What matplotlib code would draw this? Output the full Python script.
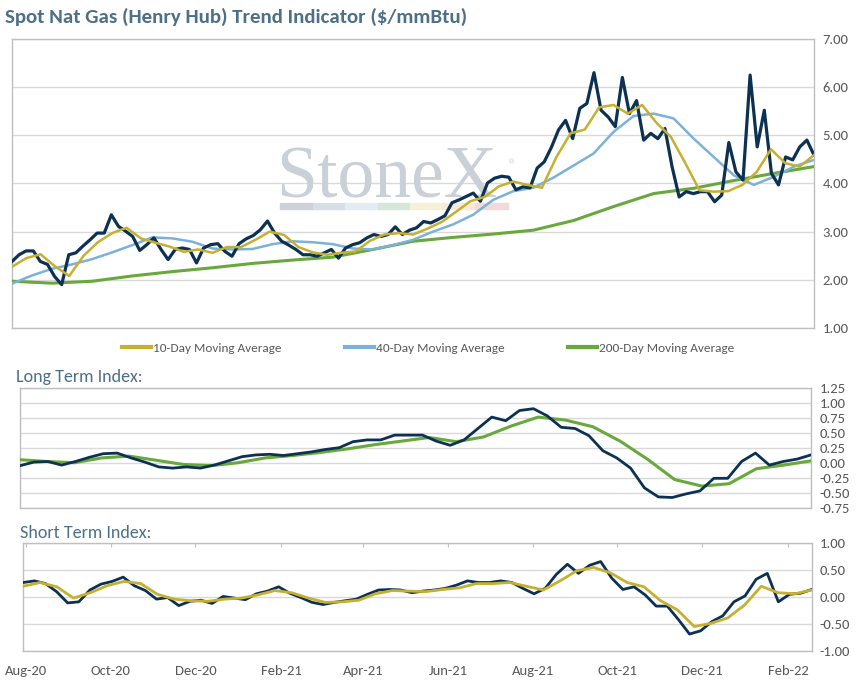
import pandas as pd
import numpy as np
import matplotlib
matplotlib.use('Agg')
import matplotlib.pyplot as plt
import matplotlib.dates as mdates
from matplotlib.lines import Line2D
from matplotlib.patches import Rectangle

plt.rcParams['font.family'] = ['Carlito', 'Lato', 'DejaVu Sans']

START = '2020-07-30'
END = '2022-02-18'

# spot Henry Hub price, one reading every ~5 days
spot = [2.38, 2.52, 2.60, 2.60, 2.38, 2.32, 2.07, 1.90, 2.52, 2.56,
        2.70, 2.83, 2.97, 2.97, 3.35, 3.11, 3.01, 2.90, 2.61, 2.73,
        2.87, 2.63, 2.42, 2.63, 2.66, 2.63, 2.35, 2.66, 2.73, 2.75,
        2.59, 2.49, 2.75, 2.85, 2.92, 3.04, 3.22, 2.97, 2.80, 2.72,
        2.63, 2.52, 2.52, 2.49, 2.56, 2.63, 2.45, 2.66, 2.73, 2.77,
        2.87, 2.94, 2.90, 2.94, 3.10, 2.94, 3.03, 3.08, 3.21, 3.18,
        3.25, 3.33, 3.60, 3.66, 3.73, 3.80, 3.63, 4.01, 4.11, 4.15,
        4.13, 3.87, 3.93, 3.91, 4.32, 4.45, 4.75, 5.11, 5.31, 4.93,
        5.56, 5.66, 6.30, 5.52, 5.38, 5.18, 6.20, 5.45, 5.72, 4.90,
        5.04, 4.93, 5.14, 4.35, 3.72, 3.83, 3.79, 3.83, 3.83, 3.62,
        3.76, 4.85, 4.24, 4.07, 6.25, 4.76, 5.52, 4.21, 3.97, 4.55,
        4.49, 4.76, 4.90, 4.59]

ma10 = [2.27, 2.45, 2.53, 2.28, 2.08, 2.50, 2.78, 2.97, 3.08, 2.86,
        2.77, 2.69, 2.58, 2.63, 2.56, 2.68, 2.68, 2.83, 3.00, 2.93,
        2.68, 2.57, 2.52, 2.56, 2.59, 2.81, 2.94, 2.97, 2.94, 3.06,
        3.20, 3.41, 3.63, 3.72, 3.94, 4.04, 3.97, 3.91, 4.54, 5.04,
        5.12, 5.58, 5.63, 5.45, 5.63, 5.26, 4.97, 4.43, 3.86, 3.83,
        3.84, 3.97, 4.24, 4.71, 4.42, 4.35, 4.59]

ma40 = [1.92, 2.09, 2.23, 2.32, 2.43, 2.57, 2.72, 2.88, 2.86, 2.79,
        2.65, 2.63, 2.64, 2.74, 2.80, 2.78, 2.74, 2.65, 2.63, 2.72,
        2.83, 3.00, 3.15, 3.35, 3.66, 3.84, 3.91, 4.12, 4.37, 4.62,
        5.07, 5.40, 5.45, 5.35, 4.93, 4.55, 4.17, 3.97, 4.14, 4.35,
        4.49]

ma200 = [1.97, 1.93, 1.97, 2.08, 2.17, 2.25, 2.34, 2.41, 2.47, 2.63,
         2.80, 2.88, 2.95, 3.03, 3.23, 3.52, 3.79, 3.90, 4.06, 4.21,
         4.35]

long_index = [-0.04, 0.02, 0.03, -0.03, 0.03, 0.10, 0.16, 0.17, 0.09, 0.02,
              -0.06, -0.08, -0.06, -0.08, -0.03, 0.04, 0.11, 0.14, 0.15, 0.13,
              0.16, 0.19, 0.23, 0.26, 0.36, 0.39, 0.39, 0.47, 0.47, 0.47,
              0.37, 0.30, 0.39, 0.58, 0.77, 0.71, 0.88, 0.91, 0.79, 0.60,
              0.58, 0.46, 0.21, 0.09, -0.08, -0.41, -0.56, -0.57, -0.51, -0.46,
              -0.25, -0.25, 0.03, 0.17, -0.03, 0.03, 0.07, 0.14]

long_signal = [0.06, 0.03, 0.01, 0.09, 0.12, 0.05, -0.02, -0.04, 0.01, 0.09,
               0.13, 0.18, 0.24, 0.31, 0.37, 0.43, 0.36, 0.44, 0.62, 0.77,
               0.72, 0.61, 0.37, 0.07, -0.27, -0.38, -0.34, -0.09, -0.03, 0.04]

short_index = [0.27, 0.30, 0.25, 0.10, -0.11, -0.09, 0.13, 0.24, 0.29, 0.37,
               0.21, 0.12, -0.04, -0.01, -0.16, -0.08, -0.06, -0.12, 0.01, -0.02,
               -0.05, 0.06, 0.11, 0.19, 0.07, -0.01, -0.10, -0.14, -0.10, -0.07,
               -0.04, 0.05, 0.13, 0.14, 0.13, 0.08, 0.11, 0.13, 0.16, 0.22,
               0.30, 0.27, 0.27, 0.30, 0.27, 0.16, 0.06, 0.16, 0.42, 0.61,
               0.44, 0.59, 0.66, 0.35, 0.14, 0.19, 0.04, -0.17, -0.17, -0.42,
               -0.69, -0.63, -0.46, -0.35, -0.09, 0.02, 0.33, 0.44, -0.09, 0.05,
               0.07, 0.14]

short_signal = [0.20, 0.27, 0.19, -0.02, 0.08, 0.21, 0.29, 0.25, 0.05, -0.04,
                -0.07, -0.08, -0.04, -0.02, 0.04, 0.12, 0.08, -0.02, -0.10, -0.09,
                -0.06, 0.06, 0.12, 0.11, 0.10, 0.14, 0.17, 0.25, 0.25, 0.27,
                0.20, 0.13, 0.30, 0.49, 0.55, 0.45, 0.27, 0.19, -0.07, -0.24,
                -0.55, -0.49, -0.39, -0.15, 0.20, 0.08, 0.06, 0.13]

NAVY = '#0d3152'
GOLD = '#c5b032'
BLUE = '#7cb1d9'
GREEN = '#68a83c'
GRID = '#d9d9d9'
FRAME = '#bfbfbf'
TICK = '#595959'
HEAD = '#4d7088'


def dates(values):
    return pd.date_range(START, END, periods=len(values))


def style_axes(ax, ymin, ymax, step):
    ax.set_xlim(pd.Timestamp(START), pd.Timestamp(END))
    ax.set_ylim(ymin, ymax)
    ax.set_yticks(np.arange(ymin, ymax + step / 2, step))
    ax.yaxis.tick_right()
    ax.yaxis.set_major_formatter(plt.FormatStrFormatter('%.2f'))
    ax.tick_params(axis='y', length=0, labelsize=10.5, colors=TICK, pad=6)
    ax.grid(axis='y', color=GRID, lw=1)
    ax.set_axisbelow(True)
    for s in ax.spines.values():
        s.set_color(FRAME)
        s.set_linewidth(1)


fig = plt.figure(figsize=(8.62, 6.81), dpi=100)

# top panel: price and moving averages
ax1 = fig.add_axes([0.0139, 0.5184, 0.9304, 0.4244])
style_axes(ax1, 1, 7, 1)
ax1.set_xticks([])
ax1.plot(dates(ma200), ma200, color=GREEN, lw=2.2, zorder=3)
ax1.plot(dates(ma40), ma40, color=BLUE, lw=1.8, zorder=4)
ax1.plot(dates(spot), spot, color=NAVY, lw=2.3, zorder=5)
ax1.plot(dates(ma10), ma10, color=GOLD, lw=1.8, zorder=6)

# StoneX watermark
ax1.text(0.320, 0.7105, 'StoneX', transform=fig.transFigure, family='Liberation Serif',
         fontsize=53, color='#c9d0d8', ha='left', va='baseline', zorder=1)
ax1.text(0.589, 0.758, '®', transform=fig.transFigure, family='DejaVu Sans',
         fontsize=5, color='#c9d0d8', zorder=1)
stripe = ['#cdd2da', '#d6dee8', '#e1ecf5', '#d6e6d9', '#f6f0d8', '#f8eadb', '#f3d9db']
for i, c in enumerate(stripe):
    ax1.add_patch(Rectangle((0.3248 + i * 0.0378, 0.6931), 0.0378, 0.0085,
                            transform=fig.transFigure, color=c, zorder=1, clip_on=False))

handles = [Line2D([], [], color=GOLD, lw=3), Line2D([], [], color=BLUE, lw=3),
           Line2D([], [], color=GREEN, lw=3)]
labels = ['10-Day Moving Average', '40-Day Moving Average', '200-Day Moving Average']
fig.legend(handles, labels, loc='center', bbox_to_anchor=(0.4965, 0.489), ncol=3,
           frameon=False, fontsize=9.5, handlelength=2.2, handletextpad=0.15,
           columnspacing=4.8, labelcolor=TICK)

fig.text(0.006, 0.975, 'Spot Nat Gas (Henry Hub) Trend Indicator (\\$/mmBtu)',
         fontsize=15, fontweight='bold', color=HEAD, va='center')

# long term index
ax2 = fig.add_axes([0.0232, 0.2536, 0.9176, 0.1762])
style_axes(ax2, -0.75, 1.25, 0.25)
ax2.set_xticks([])
ax2.plot(dates(long_signal), long_signal, color=GREEN, lw=2.2, zorder=3)
ax2.plot(dates(long_index), long_index, color=NAVY, lw=2.0, zorder=4)
fig.text(0.0186, 0.4464, 'Long Term Index:', fontsize=13, color=HEAD, va='center')

# short term index
ax3 = fig.add_axes([0.0270, 0.0445, 0.9146, 0.1577])
style_axes(ax3, -1, 1, 0.5)
ax3.plot(dates(short_index), short_index, color=NAVY, lw=2.0, zorder=3)
ax3.plot(dates(short_signal), short_signal, color=GOLD, lw=2.0, zorder=4)
ax3.xaxis.set_major_locator(mdates.MonthLocator(bymonth=[2, 4, 6, 8, 10, 12]))
ax3.xaxis.set_major_formatter(mdates.DateFormatter('%b-%y'))
ax3.tick_params(axis='x', direction='in', length=3, top=True, bottom=False,
                labeltop=False, labelbottom=True, labelsize=10.5, labelcolor=TICK,
                color=FRAME, pad=10)
fig.text(0.0232, 0.2173, 'Short Term Index:', fontsize=13, color=HEAD, va='center')

fig.savefig('out.png', dpi=100)
